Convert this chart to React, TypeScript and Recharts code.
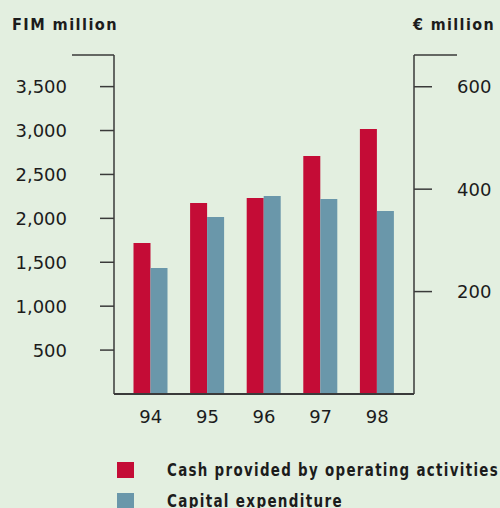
import { BarChart, Bar, XAxis, YAxis } from 'recharts';

const years = ['94', '95', '96', '97', '98'];
const cashFromOps = [1720, 2175, 2232, 2711, 3018];
const capex = [1435, 2016, 2255, 2221, 2084];
const fimTicks = [500, 1000, 1500, 2000, 2500, 3000, 3500];
const euroTicks = [200, 400, 600];
const fimMax = 3860;
const euroMax = 662;

const RED = '#c40c36';
const BLUE = '#6a97aa';
const BG = '#e3efe0';
const AXIS = '#3a3a3a';
const TEXT = '#1c1c1c';
const FONT = '"DejaVu Sans", sans-serif';
const TITLE_FONT = '"DejaVu Sans Condensed", "DejaVu Sans", sans-serif';

const data = years.map((year, i) => ({ year, cash: cashFromOps[i], capex: capex[i] }));

const LeftTick = (props: any) => {
  const { x, y, payload } = props;
  if (payload.value === fimMax) {
    return <line x1={x - 42} x2={x} y1={y} y2={y} stroke={AXIS} strokeWidth={1.5} />;
  }
  return (
    <g>
      <line x1={x - 14} x2={x} y1={y} y2={y} stroke={AXIS} strokeWidth={1.5} />
      <text x={x - 47} y={y} dy="0.36em" textAnchor="end" fill={TEXT} fontSize={18} fontFamily={FONT}>
        {payload.value.toLocaleString('en-US')}
      </text>
    </g>
  );
};

const RightTick = (props: any) => {
  const { x, y, payload } = props;
  if (payload.value === euroMax) {
    return <line x1={x} x2={x + 43} y1={y} y2={y} stroke={AXIS} strokeWidth={1.5} />;
  }
  return (
    <g>
      <line x1={x} x2={x + 18} y1={y} y2={y} stroke={AXIS} strokeWidth={1.5} />
      <text x={x + 43} y={y} dy="0.36em" textAnchor="start" fill={TEXT} fontSize={18} fontFamily={FONT}>
        {payload.value}
      </text>
    </g>
  );
};

const titles = [
  { label: 'FIM million', x: 12, y: 30, len: 106 },
  { label: '€ million', x: 413, y: 30, len: 82 },
];

const legendItems = [
  { label: 'Cash provided by operating activities', color: RED, y: 462, len: 332 },
  { label: 'Capital expenditure', color: BLUE, y: 493, len: 176 },
];

export default function App() {
  return (
    <div style={{ position: 'absolute', left: 0, top: 0, width: 500, height: 508, background: BG, overflow: 'hidden' }}>
      <BarChart
        width={500}
        height={430}
        data={data}
        margin={{ top: 55, right: 0, bottom: 6, left: 0 }}
        barGap={0}
        barSize={17}
      >
        <XAxis
          dataKey="year"
          padding={{ left: 8.5, right: 8.5 }}
          height={30}
          tickLine={false}
          tickSize={0}
          tickMargin={16}
          axisLine={{ stroke: AXIS, strokeWidth: 2 }}
          tick={{ fill: TEXT, fontSize: 18, fontFamily: FONT }}
        />
        <YAxis
          yAxisId="fim"
          orientation="left"
          width={114}
          domain={[0, fimMax]}
          ticks={[...fimTicks, fimMax]}
          interval={0}
          tickLine={false}
          tickSize={0}
          tickMargin={0}
          axisLine={{ stroke: AXIS, strokeWidth: 1.5 }}
          tick={<LeftTick />}
        />
        <YAxis
          yAxisId="eur"
          orientation="right"
          width={86}
          type="number"
          domain={[0, euroMax]}
          allowDataOverflow
          ticks={[...euroTicks, euroMax]}
          interval={0}
          tickLine={false}
          tickSize={0}
          tickMargin={0}
          axisLine={{ stroke: AXIS, strokeWidth: 1.5 }}
          tick={<RightTick />}
        />
        <Bar yAxisId="fim" dataKey="cash" fill={RED} isAnimationActive={false} />
        <Bar yAxisId="fim" dataKey="capex" fill={BLUE} isAnimationActive={false} />
      </BarChart>
      <svg width={500} height={508} style={{ position: 'absolute', left: 0, top: 0, pointerEvents: 'none' }}>
        {titles.map((t) => (
          <text
            key={t.label}
            x={t.x}
            y={t.y}
            fill={TEXT}
            fontFamily={TITLE_FONT}
            fontWeight="bold"
            fontSize={16}
            letterSpacing={1.4}
            textLength={t.len}
            lengthAdjust="spacingAndGlyphs"
          >
            {t.label}
          </text>
        ))}
        {legendItems.map((item) => (
          <g key={item.label}>
            <rect x={117} y={item.y} width={17} height={16} fill={item.color} />
            <text
              x={167}
              y={item.y + 13.5}
              fill={TEXT}
              fontFamily={TITLE_FONT}
              fontWeight="bold"
              fontSize={17}
              letterSpacing={1.5}
              textLength={item.len}
              lengthAdjust="spacingAndGlyphs"
            >
              {item.label}
            </text>
          </g>
        ))}
      </svg>
    </div>
  );
}
